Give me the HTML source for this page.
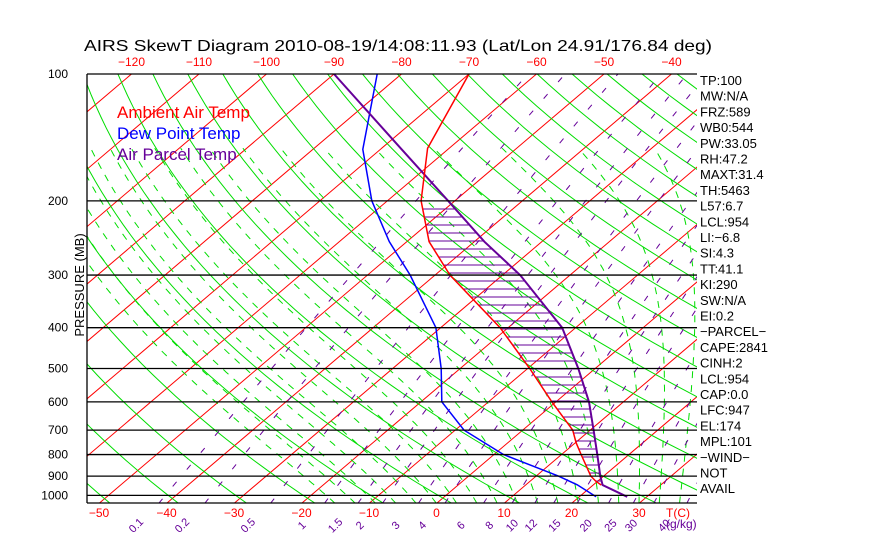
<!DOCTYPE html>
<html><head><meta charset="utf-8"><style>
html,body{margin:0;padding:0;background:#fff;}
svg{display:block;font-family:"Liberation Sans",sans-serif;}
</style></head><body>
<svg id="chart" width="870" height="560" viewBox="0 0 870 560">
<defs><clipPath id="pc"><rect x="87" y="74" width="610" height="429"/></clipPath></defs>
<text x="84" y="51" font-size="16" textLength="628" lengthAdjust="spacingAndGlyphs">AIRS SkewT Diagram 2010-08-19/14:08:11.93 (Lat/Lon 24.91/176.84 deg)</text>
<g id="grid" clip-path="url(#pc)"></g>
<g id="hatch" clip-path="url(#pc)"></g>
<g id="series" clip-path="url(#pc)"></g>
<g id="axes"></g>
<text x="117" y="118" font-size="17" fill="#ff0000">Ambient Air Temp</text>
<text x="117" y="139" font-size="17" fill="#0000ff">Dew Point Temp</text>
<text x="117" y="160" font-size="17" fill="#660099">Air Parcel Temp</text>
<text transform="translate(84,285) rotate(-90)" font-size="13" text-anchor="middle">PRESSURE (MB)</text>
<g id="stats" font-size="13"></g>
</svg>
<script>
// ---- data ----
const envP = [100,150,200,250,300,400,500,600,700,750,800,900,925,945];
const envT = [-70,-63.2,-55,-46.7,-37.8,-21.2,-9.7,-0.6,7.4,10.1,12.9,18.1,19.7,21.2];
const dewP = [100,151,200,250,300,400,500,600,700,800,900,944,1008];
const dewT = [-83.6,-72.6,-62.3,-52.6,-43.7,-30.7,-22.8,-16.9,-8.7,1.4,13.3,17.6,22.5];
const parP = [100,150,200,250,300,400,500,600,700,800,900,945,1008];
const parT = [-90,-67.2,-51,-38.5,-27.4,-12,-2.5,4.9,10.5,15.3,19.5,21.4,27.1];
const pressureTicks = [100,200,300,400,500,600,700,800,900,1000];
const bottomTempTicks = [-50,-40,-30,-20,-10,0,10,20,30];
const topTempTicks = [-120,-110,-100,-90,-80,-70,-60,-50,-40];
const mixRatios = [0.1,0.2,0.5,1,1.5,2,3,4,6,8,10,12,15,20,25,30,40];
const statLabels = ["TP:100","MW:N/A","FRZ:589","WB0:544","PW:33.05","RH:47.2","MAXT:31.4","TH:5463","L57:6.7","LCL:954","LI:\u22126.8","SI:4.3","TT:41.1","KI:290","SW:N/A","EI:0.2","\u2212PARCEL\u2212","CAPE:2841","CINH:2","LCL:954","CAP:0.0","LFC:947","EL:174","MPL:101","\u2212WIND\u2212","NOT","AVAIL"];

// ---- axes ----
const PB = 1045;
function Y(p){return 74+183*Math.log(p/100);}
function X(T,p){return 437+6.75*T+1.176*(503-Y(p));}
const NS="http://www.w3.org/2000/svg";
function mk(tag,attrs,parent){const e=document.createElementNS(NS,tag);for(const k in attrs)e.setAttribute(k,attrs[k]);parent.appendChild(e);return e;}
const grid=document.getElementById('grid'),series=document.getElementById('series'),axes=document.getElementById('axes'),hatch=document.getElementById('hatch'),stats=document.getElementById('stats');
function pathFrom(pts){return pts.map((q,i)=>(i?'L':'M')+q[0].toFixed(1)+' '+q[1].toFixed(1)).join(' ');}
function plist(p0,p1,n){const a=[];for(let i=0;i<=n;i++)a.push(p0*Math.pow(p1/p0,i/n));return a;}

// isotherms
for(let T=-160;T<=50;T+=10){
  const l=mk('line',{x1:X(T,PB),y1:Y(PB),x2:X(T,100),y2:Y(100),stroke:'#ff0000','stroke-width':1},grid);
  
  
}
// dry adiabats
for(let th=222;th<=520;th+=10){
  const pts=plist(PB,100,40).map(p=>[X(th*Math.pow(p/1000,0.286)-273.15,p),Y(p)]);
  const e=mk('path',{d:pathFrom(pts),fill:'none',stroke:'#00dd00','stroke-width':1},grid);
  
  
}
// moist adiabats
function es(Tc){return 6.112*Math.exp(17.67*Tc/(Tc+243.5));}
for(let T0=-15;T0<=40;T0+=3){
  let T=T0+273.15,p=PB;const pts=[[X(T0,p),Y(p)]];
  while(p>150){const e=es(T-273.15),rs=0.622*e/(p-e);
    const dTdp=((287*T+2.5e6*rs)/(1004+2.5e6*2.5e6*rs*0.622/(287*T*T)))/p;
    T-=dTdp*5;p-=5;pts.push([X(T-273.15,p),Y(p)]);}
  const e=mk('path',{d:pathFrom(pts),fill:'none',stroke:'#00dd00','stroke-width':1,'stroke-dasharray':'7 7'},grid);
  
  
}
// mixing ratio lines + labels
mixRatios.forEach(w=>{
  const pts=plist(PB,100,30).map(p=>{const e=w*p/(622+w),L=Math.log(e/6.112);return [X(243.5*L/(17.67-L),p),Y(p)];});
  const e=mk('path',{d:pathFrom(pts),fill:'none',stroke:'#660099','stroke-width':1,'stroke-dasharray':'6 16'},grid);
  
  
  const lx=pts[0][0]-20;
  const t=mk('text',{transform:`translate(${lx.toFixed(1)},528) rotate(-45)`,'font-size':11,fill:'#660099','text-anchor':'middle'},axes);
  t.textContent=String(w);
  
  
});
const gk=mk('text',{x:666,y:528,'font-size':12,fill:'#660099'},axes);gk.textContent='(g/kg)';



// pressure lines and labels
pressureTicks.forEach(p=>{
  const l=mk('line',{x1:87,x2:697,y1:Y(p),y2:Y(p),stroke:'#000','stroke-width':1.3},axes);
  
  
  const t=mk('text',{x:68,y:Y(p)+4,'font-size':12,'text-anchor':'end'},axes);t.textContent=p;
  
  
});
const bl=mk('line',{x1:87,x2:697,y1:503,y2:503,stroke:'#000','stroke-width':1.3},axes);


const ll=mk('line',{x1:87,x2:87,y1:74,y2:503,stroke:'#000','stroke-width':1.3},axes);


bottomTempTicks.forEach(T=>{
  const t=mk('text',{x:X(T,PB),y:517,'font-size':12,fill:'#ff0000','text-anchor':'middle'},axes);t.textContent=T<0?'\u2212'+(-T):T;
  
  
});
const tc=mk('text',{x:678,y:517,'font-size':12,fill:'#ff0000','text-anchor':'middle'},axes);tc.textContent='T(C)';


topTempTicks.forEach(T=>{
  const t=mk('text',{x:X(T,100),y:66,'font-size':12,fill:'#ff0000','text-anchor':'middle'},axes);t.textContent='\u2212'+(-T);
  
  
});

// interpolation helper
function interp(P,T,p){for(let i=0;i<P.length-1;i++){if(p>=P[i]&&p<=P[i+1]){const f=Math.log(p/P[i])/Math.log(P[i+1]/P[i]);return T[i]+f*(T[i+1]-T[i]);}}return null;}
// hatch
for(let y=201;y<=486;y+=8){
  const p=100*Math.exp((y-74)/183);const te=interp(envP,envT,p),tp=interp(parP,parT,p);
  if(te!==null&&tp!==null&&tp>te){
    const h=mk('line',{x1:X(te,p),x2:X(tp,p),y1:y,y2:y,stroke:'#660099','stroke-width':1},hatch);
    
    
  }
}
// series
function line(P,T,col,name,w){
  const e=mk('path',{d:pathFrom(P.map((p,i)=>[X(T[i],p),Y(p)])),fill:'none',stroke:col,'stroke-width':w},series);
  
  
}
line(dewP,dewT,'#0000ff','dew-point-line',1.5);
line(parP,parT,'#660099','air-parcel-line',2);
line(envP,envT,'#ff0000','ambient-temp-line',1.5);

// stats
statLabels.forEach((s,i)=>{
  const t=mk('text',{x:700,y:85+i*15.7},stats);t.textContent=s;
  
  
});
</script>
</body></html>
